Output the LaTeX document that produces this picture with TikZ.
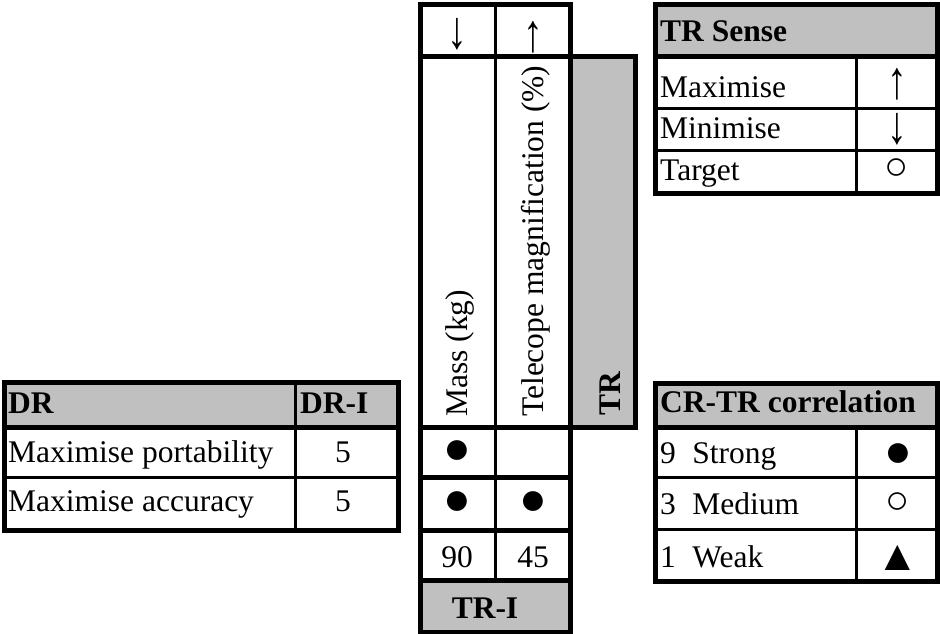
\documentclass[tikz,border=0pt]{standalone}
\usepackage{fontspec}
\setmainfont{Liberation Serif}
\usepackage{xcolor}
\usepackage{graphicx}
\usetikzlibrary{positioning}
\definecolor{hoqgray}{RGB}{192,192,192}
\newcommand{\hoqsize}{\fontsize{31.5}{36}\selectfont}
\newcommand{\hoqup}{\scalebox{1.25}[1.7]{↑}}
\newcommand{\hoqdown}{\scalebox{1.25}[1.7]{↓}}

\tikzset{
  frame/.style={line width=5pt},
  rule/.style={line width=3pt},
  lbl/.style={inner sep=0pt,anchor=base west},
  sym/.style={inner sep=0pt},
  dot/.style={sym,font=\fontsize{46}{50}\selectfont},
  ring/.style={sym,font=\fontsize{40}{44}\selectfont},
  tri/.style={sym,font=\fontsize{43}{48}\selectfont},
  hd/.style={font=\hoqsize\bfseries},
}

\begin{document}
\begin{tikzpicture}[x=1pt, y=-1pt, every node/.style={font=\hoqsize}]
\fill[white] (0,0) rectangle (940,634);
\useasboundingbox (0,0) rectangle (940,634);

% technical requirements
\fill[hoqgray] (570,57) rectangle (635,427);
\fill[hoqgray] (420,580) rectangle (570,632);
\draw[frame] (570,57) rectangle (635,427);
\draw[frame] (420,5) rectangle (570,632);
\foreach \y in {57,427,477,530,580}
  \draw[frame] (420,\y) -- (570,\y);
\draw[rule] (495,5) -- (495,580);

\node[sym] (dnarrow) at (457,34) {\hoqdown};
\node[sym] (uparrow) at (533,37) {\hoqup};
\node[lbl,rotate=90] (mass) at (467,417) {Mass (kg)};
\node[lbl,rotate=90] (tele) at (543,417) {Telecope magnification (\%)};
\node[lbl,hd,rotate=90] (tr) at (620,416) {TR};
\node[dot] (mass1) at (457,452) {●};
\node[dot] (mass2) at (457,503) {●};
\node[dot] (tele2) at (533,503) {●};
\node[sym,anchor=base] (massi) at (457,567) {90};
\node[sym,anchor=base] (telei) at (533,567) {45};
\node[sym,hd,anchor=base] (tri) at (485,618) {TR-I};

% design requirements
\fill[hoqgray] (4,382) rectangle (398,427);
\draw[frame] (4,382) rectangle (398,530);
\draw[frame] (4,427) -- (398,427);
\draw[rule] (4,477) -- (398,477);
\draw[rule] (295,382) -- (295,530);
\node[lbl,hd] (dr) at (8,413) {DR};
\node[lbl,hd] (dri) at (300,413) {DR-I};
\node[lbl] (port) at (8,462) {Maximise portability};
\node[sym,anchor=base] (porti) at (343,462) {5};
\node[lbl] (accu) at (8,511) {Maximise accuracy};
\node[sym,anchor=base] (accui) at (343,511) {5};

% TR sense legend
\fill[hoqgray] (655,5) rectangle (937,57);
\draw[frame] (655,5) rectangle (937,193);
\draw[frame] (655,57) -- (937,57);
\foreach \y in {108,150}
  \draw[rule] (655,\y) -- (937,\y);
\draw[rule] (856,57) -- (856,193);
\node[lbl,hd] (sense) at (660,42) {TR Sense};
\node[lbl] (maxi) at (660,97) {Maximise};
\node[lbl] (mini) at (660,138) {Minimise};
\node[lbl] (target) at (660,180) {Target};
\node[sym] (maxsym) at (897,84) {\hoqup};
\node[sym] (minsym) at (897,129) {\hoqdown};
\node[ring] (tgtsym) at (897,169) {○};

% correlation legend
\fill[hoqgray] (655,383) rectangle (937,427);
\draw[frame] (655,383) rectangle (937,581);
\draw[frame] (655,427) -- (937,427);
\foreach \y in {477,529}
  \draw[rule] (655,\y) -- (937,\y);
\draw[rule] (856,427) -- (856,581);
\node[lbl,hd] (corr) at (660,412) {CR-TR correlation};
\node[lbl] (nine) at (660,463) {9};
\node[base right=16pt of nine,inner sep=0pt] (strong) {Strong};
\node[lbl] (three) at (660,514) {3};
\node[base right=16pt of three,inner sep=0pt] (medium) {Medium};
\node[lbl] (one) at (660,567) {1};
\node[base right=16pt of one,inner sep=0pt] (weak) {Weak};
\node[dot] (strongsym) at (898,455) {●};
\node[ring] (mediumsym) at (898,503) {○};
\node[tri] (weaksym) at (898,558) {▲};
\end{tikzpicture}
\end{document}
